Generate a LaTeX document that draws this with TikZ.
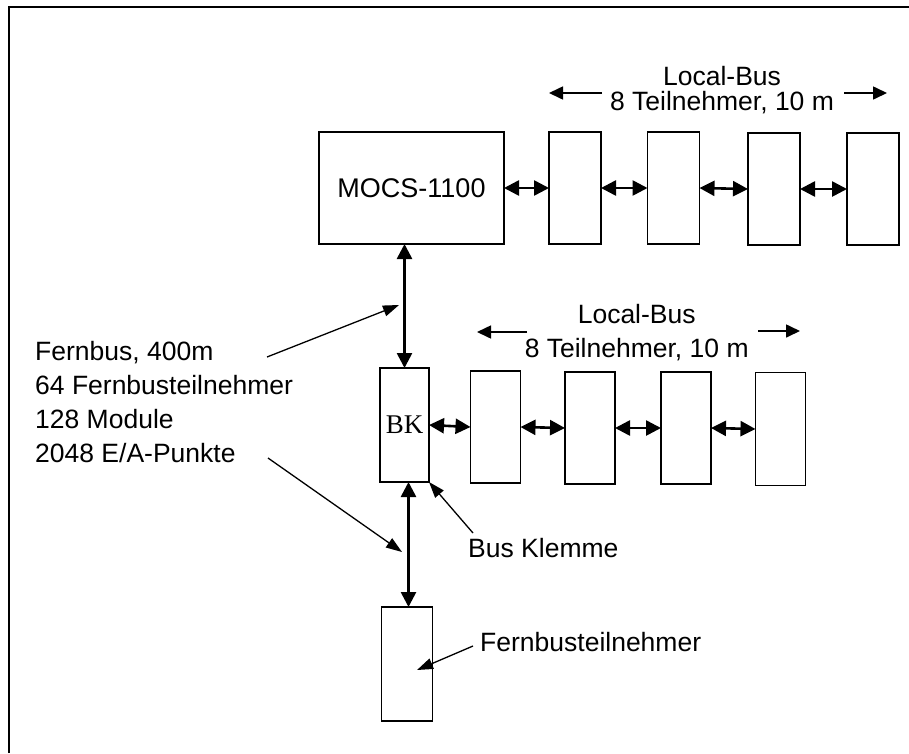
\documentclass[tikz,border=0pt]{standalone}
\usepackage{fontspec}
\setmainfont{Liberation Sans}
\newfontfamily\serifbk{Liberation Serif}
\usetikzlibrary{arrows.meta}
\tikzset{
  box/.style={draw, line width=1.8pt, inner sep=0pt, outer sep=0pt},
  dbl/.style={line width=2.6pt, {Triangle[length=15pt,width=15pt]}-{Triangle[length=15pt,width=15pt]}},
  lead/.style={line width=1.3pt, -{Triangle[length=16pt,width=11pt]}},
  busarr/.style={line width=1.6pt, -{Triangle[length=14pt,width=13pt]}},
  txt/.style={inner sep=0pt, font=\fontsize{26.5}{34}\selectfont}
}
\begin{document}
\begin{tikzpicture}[x=1pt,y=-1pt]
\useasboundingbox (0,0) rectangle (909,753);
% frame
\draw[line width=2.2pt] (9,753) -- (9,7) -- (909,7);
% top row
\node[box, minimum width=185pt, minimum height=112pt, font=\fontsize{27}{30}\selectfont] (mocs) at (411.5,188) {MOCS-1100};
\node[box, minimum width=52pt, minimum height=112pt] (t1) at (575,188) {};
\node[box, minimum width=52pt, minimum height=112pt] (t2) at (673.5,188) {};
\node[box, minimum width=52pt, minimum height=112pt] (t3) at (774,189) {};
\node[box, minimum width=52pt, minimum height=112pt] (t4) at (873,189) {};
\draw[dbl] (mocs.east) -- (t1.west);
\draw[dbl] (t1.east) -- (t2.west);
\draw[dbl] (t2.east) -- (t3.west);
\draw[dbl] (t3.east) -- (t4.west);
% top label
\node[txt, anchor=base] (lb1) at (722,85) {Local-Bus};
\node[txt, anchor=base] (tn1) at (722,110) {8 Teilnehmer, 10 m};
\coordinate (la1s) at (602,93);
\coordinate (la1e) at (549,93);
\coordinate (ra1s) at (844,93);
\coordinate (ra1e) at (887,93);
\draw[busarr] (la1s) -- (la1e);
\draw[busarr] (ra1s) -- (ra1e);
% second row
\node[box, minimum width=49pt, minimum height=114pt, font=\serifbk\fontsize{27}{30}\selectfont] (bk) at (404.5,425) {BK};
\node[box, minimum width=50pt, minimum height=112pt] (r1) at (495.5,427) {};
\node[box, minimum width=50pt, minimum height=112pt] (r2) at (590,428) {};
\node[box, minimum width=50pt, minimum height=112pt] (r3) at (686,428) {};
\node[box, minimum width=50pt, minimum height=113pt] (r4) at (780.5,429) {};
\draw[dbl] (bk.east) -- (r1.west);
\draw[dbl] (r1.east) -- (r2.west);
\draw[dbl] (r2.east) -- (r3.west);
\draw[dbl] (r3.east) -- (r4.west);
% second label
\node[txt, anchor=base] (lb2) at (636.7,323) {Local-Bus};
\node[txt, anchor=base] (tn2) at (636.7,357) {8 Teilnehmer, 10 m};
\coordinate (la2s) at (527,332);
\coordinate (la2e) at (477,332);
\coordinate (ra2s) at (758,331);
\coordinate (ra2e) at (800,331);
\draw[busarr] (la2s) -- (la2e);
\draw[busarr] (ra2s) -- (ra2e);
% bottom box
\node[box, minimum width=51pt, minimum height=114pt] (fb) at (407,664) {};
% vertical fernbus arrows
\draw[dbl] (bk.north) -- (bk.north |- mocs.south);
\draw[dbl] ([xshift=4pt]bk.south) -- ([xshift=4pt]bk.south |- fb.north);
% left text block
\node[txt, anchor=base west, align=left] (fern) at (35,462) {Fernbus, 400m\\64 Fernbusteilnehmer\\128 Module\\2048 E/A-Punkte};
\coordinate (f1s) at (267,357);
\coordinate (f1e) at (399,305);
\draw[lead] (f1s) -- (f1e);
\coordinate (f2s) at (268,458);
\coordinate (f2e) at (402,552);
\draw[lead] (f2s) -- (f2e);
% Bus Klemme
\node[txt, anchor=base west] (bkl) at (468,557) {Bus Klemme};
\coordinate (bks) at (473,533);
\draw[lead] (bks) -- (bk.south east);
% Fernbusteilnehmer
\node[txt, anchor=base west] (fbl) at (480,651) {Fernbusteilnehmer};
\coordinate (fbs) at (473,646);
\coordinate (fbe) at (417,670);
\draw[lead] (fbs) -- (fbe);
\end{tikzpicture}
\end{document}
